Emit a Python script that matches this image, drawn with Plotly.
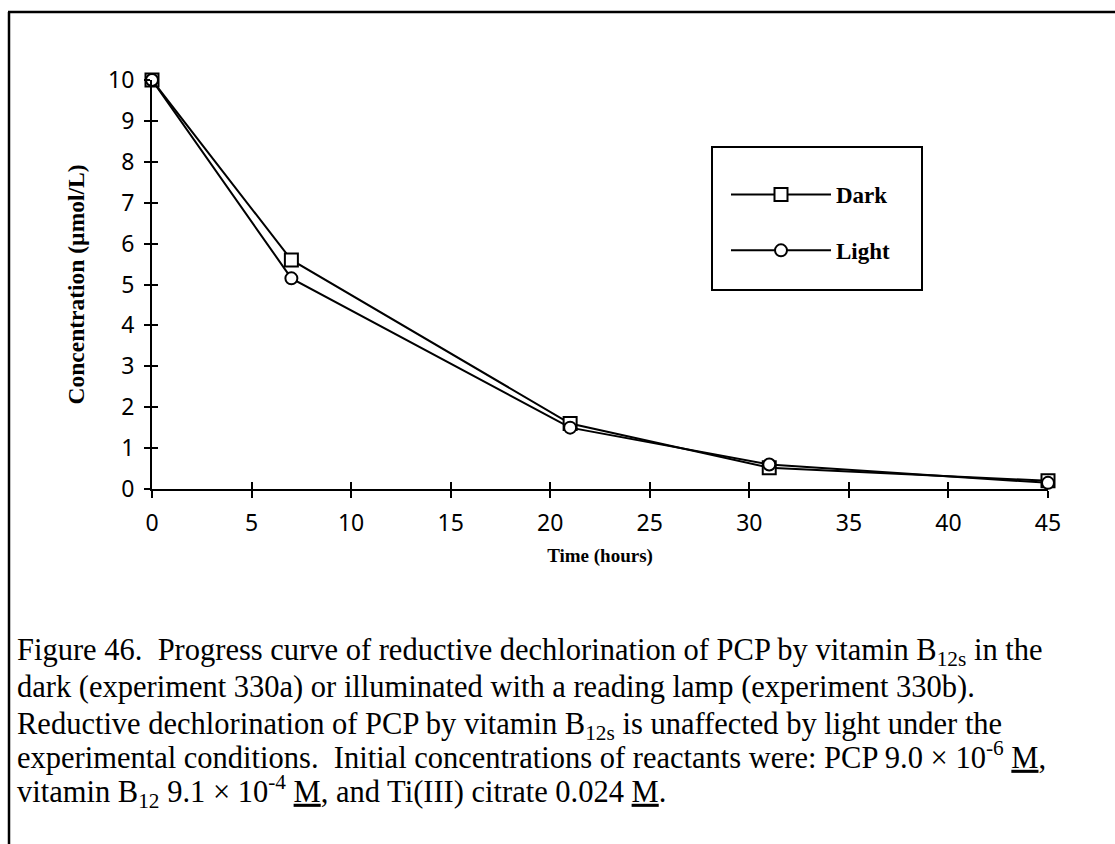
import plotly.graph_objects as go

# Sampling times (hours)
time_h = [0, 7, 21, 31, 45]

# PCP concentration (µmol/L)
dark = [10.0, 5.6, 1.6, 0.52, 0.2]
light = [10.0, 5.15, 1.5, 0.6, 0.15]

x_ticks = [0, 5, 10, 15, 20, 25, 30, 35, 40, 45]
y_ticks = list(range(0, 11))

caption_lines = [
    "Figure 46.&nbsp; Progress curve of reductive dechlorination of PCP by vitamin B<sub>12s</sub> in the",
    "dark (experiment 330a) or illuminated with a reading lamp (experiment 330b).",
    "Reductive dechlorination of PCP by vitamin B<sub>12s</sub> is unaffected by light under the",
    "experimental conditions.&nbsp; Initial concentrations of reactants were: PCP 9.0 × 10<sup>-6</sup> <u>M</u>,",
    "vitamin B<sub>12</sub> 9.1 × 10<sup>-4</sup> <u>M</u>, and Ti(III) citrate 0.024 <u>M</u>.",
]

W, H = 1115, 844
L, R, T, B = 152, 67, 80, 355
PW, PH = W - L - R, H - T - B


def px_x(p):
    return (p - L) / PW


def px_y(p):
    return (H - B - p) / PH


fig = go.Figure()

fig.add_trace(go.Scatter(
    x=time_h, y=dark, name="<b>Dark</b>", mode="lines+markers",
    line=dict(color="black", width=2),
    marker=dict(symbol="square", size=13, color="white",
                line=dict(color="black", width=2)),
    cliponaxis=False, legendgroup="a",
))
fig.add_trace(go.Scatter(
    x=time_h, y=light, name="<b>Light</b>", mode="lines+markers",
    line=dict(color="black", width=2),
    marker=dict(symbol="circle", size=12, color="white",
                line=dict(color="black", width=2)),
    cliponaxis=False, legendgroup="b",
))

tick_font = dict(family="Noto Sans, DejaVu Sans, sans-serif", size=23, color="black")
serif = "Liberation Serif, Times New Roman, serif"

fig.update_layout(
    width=W, height=H,
    margin=dict(l=L, r=R, t=T, b=B),
    plot_bgcolor="white", paper_bgcolor="white",
    showlegend=True,
    legend=dict(
        x=px_x(726), y=px_y(173), xanchor="left", yanchor="top",
        bgcolor="rgba(0,0,0,0)", borderwidth=0,
        font=dict(family=serif, size=23, color="black"),
        tracegroupgap=23, itemwidth=100,
    ),
    xaxis=dict(
        range=[0, 45], tickvals=x_ticks, ticks="outside", ticklen=7, tickwidth=2,
        tickcolor="black", showline=True, linecolor="black", linewidth=2,
        showgrid=False, zeroline=False, tickfont=tick_font, ticklabelstandoff=5,
        title=dict(text="<b>Time (hours)</b>", font=dict(family=serif, size=19, color="black"),
                   standoff=12),
    ),
    yaxis=dict(
        range=[0, 10], tickvals=y_ticks, ticks="outside", ticklen=6, tickwidth=2,
        tickcolor="black", showline=True, linecolor="black", linewidth=2,
        showgrid=False, zeroline=False, tickfont=tick_font, ticklabelstandoff=5,
        title=dict(text="<b>Concentration (µmol/L)</b>",
                   font=dict(family=serif, size=23.5, color="black"), standoff=17),
    ),
    # mirrored axes carrying the inner half of each tick mark
    xaxis2=dict(range=[0, 45], tickvals=x_ticks, ticks="inside", ticklen=7, tickwidth=2,
                tickcolor="black", showticklabels=False, showgrid=False, zeroline=False,
                overlaying="x", side="bottom", anchor="y"),
    yaxis2=dict(range=[0, 10], tickvals=y_ticks, ticks="inside", ticklen=6, tickwidth=2,
                tickcolor="black", showticklabels=False, showgrid=False, zeroline=False,
                overlaying="y", side="left", anchor="x"),
)

# invisible trace so the mirrored axes are drawn
fig.add_trace(go.Scatter(x=[None], y=[None], xaxis="x2", yaxis="y2",
                         showlegend=False, hoverinfo="skip"))

# outer frame and legend box
fig.add_shape(type="line", xref="paper", yref="paper",
              x0=px_x(8), x1=px_x(W + 5), y0=px_y(12), y1=px_y(12),
              line=dict(color="black", width=2.5))
fig.add_shape(type="line", xref="paper", yref="paper",
              x0=px_x(9), x1=px_x(9), y0=px_y(12), y1=px_y(H + 5),
              line=dict(color="black", width=2.5))
fig.add_shape(type="rect", xref="paper", yref="paper",
              x0=px_x(712), x1=px_x(922), y0=px_y(147), y1=px_y(290),
              line=dict(color="black", width=2), fillcolor="rgba(0,0,0,0)")

# caption, one annotation per line; small offsets compensate for sub/superscripts
cap_font = dict(family=serif, size=30.5, color="black")
line_centres = [652, 687, 722, 757, 793]
box_shift = [0, 0, 4, -1, -2]
for line, yc, dy in zip(caption_lines, line_centres, box_shift):
    fig.add_annotation(
        text=line, xref="paper", yref="paper",
        x=px_x(15), y=px_y(yc + dy), xanchor="left", yanchor="middle",
        showarrow=False, align="left", font=cap_font,
    )

fig.write_html("out.html")
